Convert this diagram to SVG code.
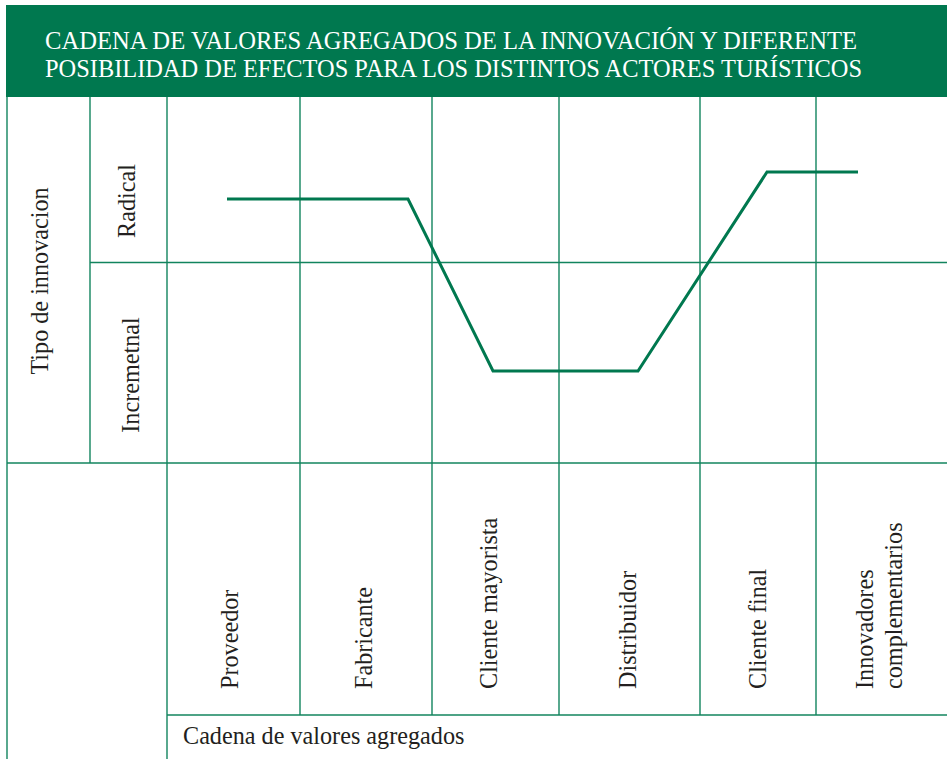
<svg xmlns="http://www.w3.org/2000/svg" width="947" height="759" viewBox="0 0 947 759">
<style>
.grid{stroke:#12845e;stroke-width:1.4;fill:none}
.chart{stroke:#00784f;stroke-width:3;fill:none;stroke-linejoin:miter}
.t{font-family:"Liberation Serif","Times New Roman",serif;font-size:24.2px;fill:#231f20}
.h{font-family:"Liberation Serif","Times New Roman",serif;font-size:25px;fill:#ffffff}
</style>
<rect width="947" height="759" fill="#ffffff"/>
<g id="header">
<rect x="6" y="5" width="941" height="92" fill="#00784f"/>
<text class="h" x="45" y="49" textLength="812" lengthAdjust="spacingAndGlyphs">CADENA DE VALORES AGREGADOS DE LA INNOVACIÓN Y DIFERENTE</text>
<text class="h" x="45" y="77" textLength="817" lengthAdjust="spacingAndGlyphs">POSIBILIDAD DE EFECTOS PARA LOS DISTINTOS ACTORES TURÍSTICOS</text>
</g>
<g id="grid" class="grid">
<line x1="7" y1="97" x2="7" y2="759"/>
<line x1="90" y1="97" x2="90" y2="463"/>
<line x1="167" y1="97" x2="167" y2="759"/>
<line x1="300" y1="97" x2="300" y2="715"/>
<line x1="432" y1="97" x2="432" y2="715"/>
<line x1="559" y1="97" x2="559" y2="715"/>
<line x1="700" y1="97" x2="700" y2="715"/>
<line x1="816" y1="97" x2="816" y2="715"/>
<line x1="90" y1="262.5" x2="947" y2="262.5"/>
<line x1="7" y1="463" x2="947" y2="463"/>
<line x1="167" y1="715" x2="947" y2="715"/>
</g>
<g id="row-labels">
<text class="t" transform="translate(48,281) rotate(-90)" text-anchor="middle">Tipo de innovacion</text>
<text class="t" transform="translate(135,201) rotate(-90)" text-anchor="middle">Radical</text>
<text class="t" transform="translate(139,375) rotate(-90)" text-anchor="middle">Incremetnal</text>
</g>
<g id="col-labels">
<text class="t" transform="translate(238,689) rotate(-90)">Proveedor</text>
<text class="t" transform="translate(372,689) rotate(-90)">Fabricante</text>
<text class="t" transform="translate(497,689) rotate(-90)">Cliente mayorista</text>
<text class="t" transform="translate(636,689) rotate(-90)">Distribuidor</text>
<text class="t" transform="translate(766,689) rotate(-90)">Cliente final</text>
<text class="t" transform="translate(873,689) rotate(-90)">Innovadores</text>
<text class="t" transform="translate(902,689) rotate(-90)">complementarios</text>
<text class="t" x="183" y="744">Cadena de valores agregados</text>
</g>
<g id="connectors">
<polyline class="chart" points="227,199 408,199 493,371 638,371 767,172 858,172"/>
</g>
</svg>
